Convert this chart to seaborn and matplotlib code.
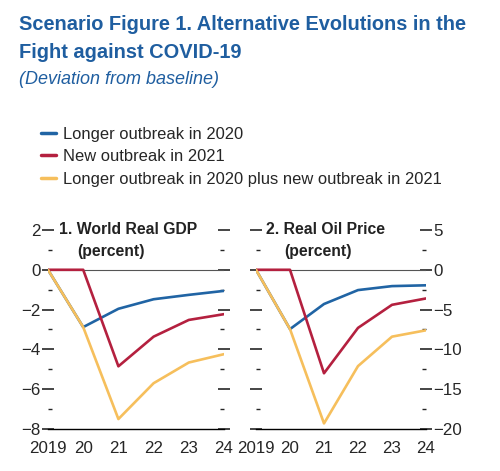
import numpy as np
import pandas as pd
import matplotlib
matplotlib.use("Agg")
import matplotlib.pyplot as plt
import matplotlib.ticker as mticker
from matplotlib.lines import Line2D
import seaborn as sns

years = [2019, 2020, 2021, 2022, 2023, 2024]
year_labels = ["2019", "20", "21", "22", "23", "24"]
scenarios = ["Longer outbreak in 2020",
             "New outbreak in 2021",
             "Longer outbreak in 2020 plus new outbreak in 2021"]
colors = ["#2064a4", "#b4203f", "#f6bf5c"]

gdp_longer = [0.0, -2.88, -1.96, -1.48, -1.26, -1.06]
gdp_new = [0.0, 0.0, -4.85, -3.36, -2.52, -2.23]
gdp_both = [0.0, -2.88, -7.5, -5.7, -4.66, -4.24]

oil_longer = [0.0, -7.45, -4.3, -2.55, -2.05, -1.95]
oil_new = [0.0, 0.0, -13.0, -7.3, -4.4, -3.6]
oil_both = [0.0, -7.45, -19.3, -12.1, -8.4, -7.6]


def to_long(series):
    rows = []
    for name, vals in zip(scenarios, series):
        for y, v in zip(years, vals):
            rows.append({"year": y, "value": v, "scenario": name})
    return pd.DataFrame(rows)


df_gdp = to_long([gdp_longer, gdp_new, gdp_both])
df_oil = to_long([oil_longer, oil_new, oil_both])

sns.set_style("white")
plt.rcParams["font.family"] = ["Liberation Sans", "DejaVu Sans"]
title_blue = "#1f5ea0"

fig = plt.figure(figsize=(5, 4.71), dpi=100)
ax1 = fig.add_axes([0.096, 0.0892, 0.352, 0.4225])
ax2 = fig.add_axes([0.512, 0.0892, 0.340, 0.4225])

palette = dict(zip(scenarios, colors))
for ax, df, ylim, major, minor, title in [
        (ax1, df_gdp, (-8, 2), 2, 1, "1. World Real GDP"),
        (ax2, df_oil, (-20, 5), 5, 2.5, "2. Real Oil Price")]:
    ax.axhline(0, color="#555555", lw=0.8, zorder=1)
    sns.lineplot(data=df, x="year", y="value", hue="scenario", palette=palette,
                 legend=False, lw=1.9, ax=ax, zorder=3)
    ax.set_xlim(2019, 2024)
    ax.set_ylim(*ylim)
    ax.set_xticks(years)
    ax.set_xticklabels(year_labels)
    ax.yaxis.set_major_locator(mticker.MultipleLocator(major))
    ax.yaxis.set_minor_locator(mticker.MultipleLocator(minor))
    ax.set_xlabel("")
    ax.set_ylabel("")
    for s in ["top", "left", "right"]:
        ax.spines[s].set_visible(False)
    ax.spines["bottom"].set_color("black")
    ax.spines["bottom"].set_linewidth(1.0)
    ax.tick_params(axis="x", direction="in", length=5, width=1, labelsize=12.2, pad=9)
    ax.tick_params(axis="y", which="major", direction="inout", length=9, width=1.2,
                   labelsize=12.2, pad=1, left=True, right=True)
    ax.tick_params(axis="y", which="minor", direction="in", length=3, width=1,
                   left=True, right=True)
    ax.set_facecolor("white")
    ax.text(0.06, 1.0, title, transform=ax.transAxes, fontsize=11.3,
            fontweight="bold", va="center", ha="left", color="#222222")
    ax.text(0.165, 0.89, "(percent)", transform=ax.transAxes, fontsize=11.3,
            fontweight="bold", va="center", ha="left", color="#222222")

ax1.tick_params(axis="y", labelleft=True, labelright=False)
ax2.tick_params(axis="y", labelleft=False, labelright=True)

fig.text(0.038, 0.947, "Scenario Figure 1. Alternative Evolutions in the",
         fontsize=14.4, fontweight="bold", color=title_blue, va="center")
fig.text(0.038, 0.888, "Fight against COVID-19",
         fontsize=14.4, fontweight="bold", color=title_blue, va="center")
fig.text(0.038, 0.831, "(Deviation from baseline)",
         fontsize=13, style="italic", color=title_blue, va="center")

handles = [Line2D([], [], color=c, lw=2.5) for c in colors]
fig.legend(handles, scenarios, loc="upper left", bbox_to_anchor=(0.068, 0.745),
           frameon=False, fontsize=11.9, handlelength=0.95, handletextpad=0.4,
           labelspacing=0.45, borderaxespad=0)

fig.savefig("out.png", dpi=100)
